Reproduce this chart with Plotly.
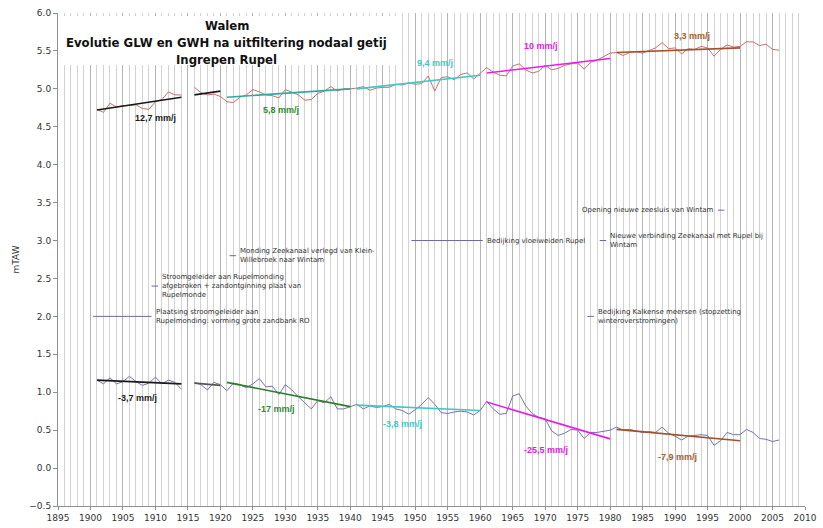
import plotly.graph_objects as go

# ---------------- data ----------------
years = list(range(1901, 2007))

# GHW (high water) 1901-2006, gap in 1915
ghw = [4.73, 4.69, 4.81, 4.76, 4.78, 4.78, 4.79, 4.74, 4.73, 4.83, 4.86, 4.96, 4.92, 4.92,
       None,
       5.02, 4.95, 4.92, 4.93, 4.90,
       4.83, 4.82, 4.89, 4.92, 4.99, 4.96, 4.92, 4.91, 4.88, 4.99,
       4.96, 4.92, 4.85, 4.86, 4.94, 4.97, 5.03, 4.97, 5.00, 5.00,
       5.01, 5.03, 4.98, 5.01, 5.02, 5.02, 5.06, 5.05, 5.08, 5.06,
       5.07, 5.17, 4.97, 5.15, 5.16, 5.12, 5.19, 5.21, 5.13, 5.20,
       5.28, 5.22, 5.18, 5.17, 5.30, 5.33, 5.25, 5.21, 5.23, 5.31,
       5.25, 5.27, 5.31, 5.33, 5.34, 5.26, 5.35, 5.38, 5.42, 5.47,
       5.48, 5.44, 5.48, 5.49, 5.47, 5.51, 5.54, 5.61, 5.53, 5.54,
       5.46, 5.53, 5.52, 5.56, 5.54, 5.43, 5.52, 5.58, 5.55, 5.56,
       5.62, 5.62, 5.57, 5.59, 5.52, 5.51]

# GLW (low water) 1901-2006, gap in 1915
glw = [1.16, 1.11, 1.19, 1.11, 1.14, 1.21, 1.14, 1.09, 1.12, 1.20, 1.11, 1.16, 1.13, 1.04,
       None,
       1.13, 1.10, 1.03, 1.13, 1.10,
       1.02, 1.12, 1.10, 1.06, 1.11, 1.18, 1.07, 1.08, 0.97, 1.10,
       1.03, 0.94, 0.86, 0.78, 0.89, 0.86, 0.94, 0.78, 0.78, 0.81,
       0.84, 0.78, 0.82, 0.80, 0.81, 0.84, 0.78, 0.76, 0.71, 0.77,
       0.84, 0.93, 0.84, 0.73, 0.72, 0.74, 0.75, 0.74, 0.70, 0.76,
       0.88, 0.78, 0.71, 0.72, 0.95, 0.98, 0.82, 0.72, 0.67, 0.65,
       0.49, 0.43, 0.46, 0.51, 0.50, 0.39, 0.47, 0.47, 0.49, 0.50,
       0.54, 0.50, 0.51, 0.49, 0.47, 0.48, 0.47, 0.54, 0.46, 0.42,
       0.37, 0.42, 0.43, 0.44, 0.43, 0.30, 0.36, 0.47, 0.44, 0.44,
       0.51, 0.47, 0.39, 0.38, 0.35, 0.37]

# trend segments
trend_years = [[1901, 1914], [1916, 1920], [1921, 1940], [1941, 1960], [1961, 1980], [1981, 2000]]
ghw_trend = [[4.72, 4.89], [4.92, 4.97], [4.89, 5.00], [5.00, 5.18], [5.21, 5.40], [5.48, 5.54]]
glw_trend = [[1.16, 1.11], [1.12, 1.09], [1.13, 0.81], [0.83, 0.76], [0.87, 0.385], [0.51, 0.36]]
ghw_rates = ["12,7 mm/j", None, "5,8 mm/j", "9,4 mm/j", "10 mm/j", "3,3 mm/j"]
glw_rates = ["-3,7 mm/j", None, "-17 mm/j", "-3,8 mm/j", "-25,5 mm/j", "-7,9 mm/j"]

# interventions (Ingrepen Rupel)
event_x = [[1900.4, 1909.4], [1909.4, 1910.4], [1921.4, 1922.4], [1949.4, 1960.4],
           [1996.6, 1997.6], [1978.4, 1979.4], [1976.5, 1977.5]]
event_y = [2.0, 2.4, 2.8, 3.0, 3.4, 3.0, 2.0]
event_text = ["Plaatsing stroomgeleider aan<br>Rupelmonding: vorming grote zandbank RO",
              "Stroomgeleider aan Rupelmonding<br>afgebroken + zandontginning plaat van<br>Rupelmonde",
              "Monding Zeekanaal verlegd van Klein-<br>Willebroek naar Wintam",
              "Bedijking vloeiweiden Rupel",
              "Opening nieuwe zeesluis van Wintam",
              "Nieuwe verbinding Zeekanaal met Rupel bij<br>Wintam",
              "Bedijking Kalkense meersen (stopzetting<br>winteroverstromingen)"]

title_lines = ["Walem", "Evolutie GLW en GWH na uitfiltering nodaal getij", "Ingrepen Rupel"]

# ---------------- styles ----------------
ghw_trend_colors = ["#1a1a1a", "#1a1a1a", "#33aaa0", "#40c8c8", "#e81ee8", "#a0522d"]
glw_trend_colors = ["#1a1a1a", "#555555", "#2e7d2e", "#40c8c8", "#e81ee8", "#a0522d"]
ghw_label_colors = ["#1a1a1a", None, "#2e8b2e", "#40c8c8", "#e020e0", "#a0602d"]
glw_label_colors = ["#1a1a1a", None, "#2e8b2e", "#40c8c8", "#e020e0", "#a0602d"]
ghw_label_pos = [(1910.0, 4.615), None, (1929.3, 4.72), (1953.1, 5.34), (1969.3, 5.57), (1992.6, 5.70)]
glw_label_pos = [(1907.3, 0.925), None, (1928.6, 0.78), (1948.0, 0.58), (1970.1, 0.24), (1990.4, 0.145)]

fig = go.Figure()

fig.add_trace(go.Scatter(x=years, y=ghw, mode="lines", line=dict(color="#c8706c", width=1),
                         connectgaps=False, showlegend=False))
fig.add_trace(go.Scatter(x=years, y=glw, mode="lines", line=dict(color="#7474aa", width=1),
                         connectgaps=False, showlegend=False))

for i, yrs in enumerate(trend_years):
    fig.add_trace(go.Scatter(x=yrs, y=ghw_trend[i], mode="lines",
                             line=dict(color=ghw_trend_colors[i], width=1.6), showlegend=False))
    fig.add_trace(go.Scatter(x=yrs, y=glw_trend[i], mode="lines",
                             line=dict(color=glw_trend_colors[i], width=1.6), showlegend=False))

for i in range(len(event_x)):
    fig.add_trace(go.Scatter(x=event_x[i], y=[event_y[i], event_y[i]], mode="lines",
                             line=dict(color="#6a6a9a", width=1), showlegend=False))

annotations = []
lab_font = dict(family="Liberation Sans, Arial", size=9)
for i in range(len(trend_years)):
    if ghw_rates[i]:
        annotations.append(dict(x=ghw_label_pos[i][0], y=ghw_label_pos[i][1], text="<b>%s</b>" % ghw_rates[i],
                                showarrow=False, xanchor="center", yanchor="middle",
                                font=dict(lab_font, color=ghw_label_colors[i])))
    if glw_rates[i]:
        annotations.append(dict(x=glw_label_pos[i][0], y=glw_label_pos[i][1], text="<b>%s</b>" % glw_rates[i],
                                showarrow=False, xanchor="center", yanchor="middle",
                                font=dict(lab_font, color=glw_label_colors[i])))

ev_font = dict(family="DejaVu Sans", size=7, color="#333333")
for i in range(len(event_x)):
    if i == 4:
        annotations.append(dict(x=event_x[i][0], y=event_y[i], text=event_text[i], showarrow=False,
                                xanchor="right", yanchor="middle", align="right", xshift=-2, font=ev_font))
    else:
        annotations.append(dict(x=event_x[i][1], y=event_y[i], text=event_text[i], showarrow=False,
                                xanchor="left", yanchor="middle", align="left", xshift=2, font=ev_font))

title_y = [0.974, 0.9398, 0.9047]
for t, ty in zip(title_lines, title_y):
    annotations.append(dict(xref="paper", yref="paper", x=0.2262, y=ty, text="<b>%s</b>" % t,
                            showarrow=False, xanchor="center", yanchor="middle",
                            font=dict(family="DejaVu Sans", size=11.7, color="#111111")))

fig.update_layout(
    width=823, height=528,
    margin=dict(l=58, r=18, t=13, b=22, autoexpand=False),
    paper_bgcolor="white", plot_bgcolor="white",
    showlegend=False,
    annotations=annotations,
    shapes=[dict(type="rect", xref="paper", yref="paper", x0=0.002, x1=0.454, y0=0.8945, y1=0.994,
                 fillcolor="white", line=dict(width=0), layer="above")],
    xaxis=dict(range=[1895, 2010], tick0=1895, dtick=5, showgrid=True, gridcolor="#b4b4b4", gridwidth=1,
               minor=dict(dtick=1, showgrid=True, gridcolor="#d2d2d2", gridwidth=1),
               showline=True, linecolor="#909090", ticks="outside", ticklen=3, tickcolor="#909090",
               tickfont=dict(family="DejaVu Sans", size=9, color="#333333"), zeroline=False,
               automargin=False),
    yaxis=dict(range=[-0.5, 6.0], dtick=0.5, tick0=0, tickformat=".1f", showgrid=False,
               showline=True, linecolor="#909090", ticks="outside", ticklen=4, tickcolor="#909090",
               tickfont=dict(family="DejaVu Sans", size=9, color="#333333"), zeroline=False,
               automargin=False,
               title=dict(text="mTAW", font=dict(family="DejaVu Sans", size=9, color="#333333"), standoff=8)),
)

fig.write_html("out.html", config={"displayModeBar": False},
               post_script="document.body.style.margin='0px';document.body.style.overflow='hidden';")
